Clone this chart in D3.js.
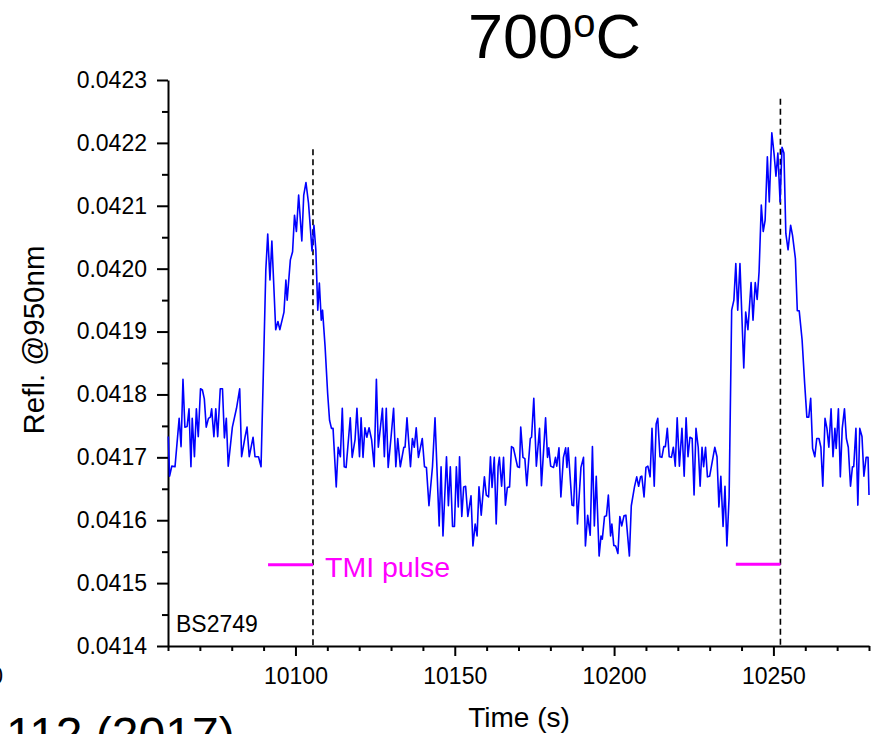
<!DOCTYPE html>
<html><head><meta charset="utf-8">
<script src="https://cdn.jsdelivr.net/npm/d3@7"></script>
<style>body{margin:0;background:#fff} svg{display:block} text{font-family:"Liberation Sans",Arial,sans-serif}</style>
</head><body><svg id="c" width="873" height="734"></svg>
<script>
const timeS = [
10060.1,10060.5,10061.2,10062.2,10063.5,10064.1,10064.7,10065.3,10066.0,10066.6,
10067.2,10067.6,10068.3,10068.9,10069.5,10070.2,10070.8,10071.4,10072.0,10072.7,
10073.3,10073.7,10074.4,10075.0,10075.6,10076.4,10077.1,10077.7,10078.3,10078.9,
10080.2,10081.5,10082.5,10083.1,10084.2,10084.8,10085.5,10086.7,10087.3,10088.4,
10089.2,10090.1,10090.7,10091.3,10092.0,10092.6,10093.8,10094.5,10095.1,10096.4,
10097.0,10097.4,10098.4,10099.1,10099.7,10100.3,10101.0,10102.0,10102.6,10103.3,
10104.1,10105.2,10105.8,10106.4,10107.0,10107.5,10108.1,10108.5,10109.3,10110.1,
10110.7,10111.3,10111.8,10112.8,10113.4,10114.1,10114.7,10115.3,10115.9,10117.2,
10117.8,10118.7,10119.3,10120.1,10120.6,10121.2,10121.8,10122.4,10123.1,10123.9,
10124.7,10125.4,10126.0,10127.3,10127.9,10128.5,10129.1,10130.0,10130.8,10131.5,
10132.1,10132.9,10134.0,10134.4,10135.0,10136.1,10136.7,10137.3,10137.9,10138.6,
10139.8,10140.5,10141.1,10141.9,10143.0,10143.8,10145.1,10145.7,10146.3,10147.4,
10148.0,10148.6,10149.3,10149.9,10150.5,10151.1,10151.5,10152.2,10152.8,10153.4,
10154.1,10155.1,10155.7,10156.4,10157.0,10157.6,10158.3,10159.3,10159.9,10160.6,
10161.2,10161.7,10162.4,10163.0,10163.6,10164.0,10164.7,10165.3,10165.9,10166.5,
10167.2,10167.8,10168.4,10169.7,10170.3,10170.7,10171.4,10172.0,10172.6,10173.7,
10174.1,10174.8,10175.6,10176.6,10177.2,10178.5,10179.1,10179.5,10180.1,10181.0,
10181.6,10182.0,10182.7,10183.3,10184.1,10184.8,10185.2,10185.6,10186.8,10187.3,
10187.9,10188.5,10189.6,10190.4,10191.0,10191.7,10192.5,10193.2,10193.8,10194.4,
10195.3,10195.9,10196.3,10197.0,10197.6,10198.2,10198.9,10199.3,10199.9,10200.5,
10201.2,10201.8,10202.4,10203.1,10203.7,10204.8,10205.4,10206.4,10207.1,10207.7,
10208.3,10208.7,10209.4,10210.0,10210.6,10211.3,10211.9,10212.6,10213.2,10213.7,
10214.4,10215.0,10215.6,10216.1,10216.7,10217.3,10218.0,10218.6,10219.2,10219.8,
10220.5,10221.3,10222.0,10222.6,10223.2,10223.8,10224.5,10225.1,10225.7,10226.4,
10227.0,10227.6,10228.1,10228.7,10229.3,10230.0,10231.6,10232.3,10232.9,10233.5,
10234.2,10234.8,10235.4,10236.1,10236.9,10237.6,10238.2,10238.8,10239.5,10240.7,
10241.3,10242.0,10243.0,10243.6,10244.3,10244.9,10245.5,10246.2,10246.8,10247.4,
10248.1,10248.7,10249.5,10250.2,10250.8,10251.4,10252.1,10252.7,10253.3,10253.9,
10254.6,10255.4,10256.0,10256.9,10257.5,10258.1,10259.0,10259.8,10260.5,10261.1,
10261.7,10262.3,10263.0,10263.6,10264.3,10264.9,10265.5,10266.2,10266.8,10267.4,
10268.1,10268.7,10269.3,10269.7,10270.4,10271.0,10271.6,10272.3,10272.9,10273.5,
10274.2,10274.8,10275.2,10275.9,10276.5,10277.1,10277.8,10278.4,10279.1,10279.7,
10280.0
];
const refl = [
0.041733,0.041670,0.041686,0.041685,0.041762,0.041717,0.041824,0.041748,0.041749,0.041777,
0.041685,0.041762,0.041701,0.041777,0.041733,0.041809,0.041807,0.041793,0.041748,0.041762,
0.041764,0.041777,0.041733,0.041777,0.041733,0.041809,0.041809,0.041731,0.041762,0.041686,
0.041748,0.041778,0.041809,0.041701,0.041733,0.041748,0.041701,0.041732,0.041701,0.041701,
0.041685,0.041871,0.041998,0.042055,0.041982,0.042044,0.041903,0.041916,0.041903,0.041931,
0.041982,0.041950,0.042014,0.042027,0.042085,0.042059,0.042117,0.042044,0.042117,0.042137,
0.042104,0.042028,0.042069,0.042030,0.041934,0.041977,0.041918,0.041934,0.041876,0.041802,
0.041759,0.041746,0.041746,0.041653,0.041716,0.041701,0.041778,0.041685,0.041684,0.041763,
0.041700,0.041728,0.041778,0.041701,0.041763,0.041700,0.041747,0.041732,0.041747,0.041728,
0.041685,0.041824,0.041716,0.041778,0.041701,0.041778,0.041684,0.041732,0.041778,0.041685,
0.041730,0.041685,0.041716,0.041716,0.041763,0.041685,0.041730,0.041716,0.041747,0.041700,
0.041730,0.041685,0.041684,0.041623,0.041685,0.041763,0.041591,0.041685,0.041575,0.041701,
0.041623,0.041685,0.041590,0.041590,0.041685,0.041621,0.041701,0.041606,0.041653,0.041654,
0.041606,0.041639,0.041559,0.041594,0.041575,0.041653,0.041608,0.041669,0.041640,0.041637,
0.041701,0.041652,0.041700,0.041594,0.041685,0.041700,0.041654,0.041700,0.041624,0.041652,
0.041653,0.041717,0.041715,0.041685,0.041684,0.041748,0.041700,0.041698,0.041655,0.041730,
0.041732,0.041794,0.041686,0.041746,0.041655,0.041763,0.041700,0.041715,0.041686,0.041684,
0.041700,0.041686,0.041715,0.041637,0.041700,0.041715,0.041684,0.041715,0.041624,0.041623,
0.041700,0.041594,0.041684,0.041700,0.041559,0.041608,0.041576,0.041717,0.041591,0.041670,
0.041543,0.041575,0.041570,0.041606,0.041607,0.041640,0.041575,0.041594,0.041560,0.041559,
0.041547,0.041606,0.041591,0.041607,0.041608,0.041543,0.041623,0.041653,0.041669,0.041654,
0.041669,0.041670,0.041637,0.041684,0.041686,0.041669,0.041746,0.041654,0.041753,0.041762,
0.041701,0.041700,0.041717,0.041717,0.041746,0.041701,0.041700,0.041716,0.041686,0.041763,
0.041686,0.041746,0.041670,0.041763,0.041701,0.041732,0.041730,0.041640,0.041746,0.041716,
0.041654,0.041716,0.041685,0.041716,0.041669,0.041670,0.041716,0.041701,0.041621,0.041670,
0.041590,0.041654,0.041559,0.041637,0.041934,0.041950,0.042008,0.041934,0.042008,0.041842,
0.041931,0.041903,0.041978,0.041918,0.041978,0.041951,0.041995,0.042101,0.042059,0.042077,
0.042178,0.042106,0.042216,0.042183,0.042147,0.042184,0.042106,0.042193,0.042184,0.042056,
0.042030,0.042069,0.042053,0.042016,0.041933,0.041933,0.041887,0.041818,0.041764,0.041764,
0.041794,0.041714,0.041701,0.041730,0.041730,0.041716,0.041654,0.041762,0.041746,0.041716,
0.041777,0.041701,0.041746,0.041714,0.041777,0.041669,0.041746,0.041777,0.041730,0.041716,
0.041654,0.041685,0.041685,0.041746,0.041624,0.041746,0.041733,0.041670,0.041700,0.041700,
0.041640
];
const xTicks = [10100, 10150, 10200, 10250];
const xMinor = [10060,10070,10080,10090,10110,10120,10130,10140,10160,10170,10180,10190,10210,10220,10230,10240,10260,10270,10280];
const yTicks = [0.0414,0.0415,0.0416,0.0417,0.0418,0.0419,0.0420,0.0421,0.0422,0.0423];
const yMinor = [0.04145,0.04155,0.04165,0.04175,0.04185,0.04195,0.04205,0.04215,0.04225];
const pulseStart = [10091.4, 10238.2];
const pulseEnd = [10105.5, 10252.2];
const pulseLevel = [0.041529, 0.041530];
const dashTop = [0.04219, 0.04227];

const svg = d3.select("#c");
const x = d3.scaleLinear().domain([10060, 10280]).range([168, 869]);
const y = d3.scaleLinear().domain([0.0414, 0.0423]).range([646, 80]);

// title
const title = svg.append("text").attr("x", 468).attr("y", 58).attr("font-size", 63).attr("fill", "#000");
title.append("tspan").text("700");
title.append("tspan").attr("font-size", 40).attr("dy", -21).text("o");
title.append("tspan").attr("dy", 21).text("C");

// axes
const gy = svg.append("g").attr("transform", "translate(168,0)");
gy.call(d3.axisLeft(y).tickValues(yTicks).tickSize(11).tickSizeOuter(0).tickPadding(10).tickFormat(d3.format(".4f")));
const gym = svg.append("g").attr("transform", "translate(168,0)");
gym.call(d3.axisLeft(y).tickValues(yMinor).tickSize(6).tickSizeOuter(0).tickFormat(""));
gym.select(".domain").remove();

const gx = svg.append("g").attr("transform", "translate(0,646)");
gx.call(d3.axisBottom(x).tickValues(xTicks).tickSize(10).tickSizeOuter(0).tickPadding(12).tickFormat(d3.format("d")));
const gxm = svg.append("g").attr("transform", "translate(0,646)");
gxm.call(d3.axisBottom(x).tickValues(xMinor).tickSize(5).tickSizeOuter(0).tickFormat(""));
gxm.select(".domain").remove();

svg.selectAll(".domain, .tick line").attr("stroke", "#000").attr("stroke-width", 2);
gy.selectAll("text").attr("font-size", 23).attr("font-family", "Liberation Sans, Arial, sans-serif").attr("fill", "#000");
gx.selectAll("text").attr("font-size", 23).attr("font-family", "Liberation Sans, Arial, sans-serif").attr("fill", "#000");

// dashed markers
svg.append("g").selectAll("line").data(pulseEnd).join("line")
  .attr("x1", d => x(d)).attr("x2", d => x(d))
  .attr("y1", (d, i) => y(dashTop[i])).attr("y2", y(0.0414))
  .attr("stroke", "#000").attr("stroke-width", 1.6).attr("stroke-dasharray", "6,4");

// pulse bars
svg.append("g").selectAll("line").data(pulseStart).join("line")
  .attr("x1", d => x(d)).attr("x2", (d, i) => x(pulseEnd[i]))
  .attr("y1", (d, i) => y(pulseLevel[i])).attr("y2", (d, i) => y(pulseLevel[i]))
  .attr("stroke", "#FF00FF").attr("stroke-width", 3);

// data line
const pts = d3.zip(timeS, refl);
svg.append("path").datum(pts)
  .attr("fill", "none").attr("stroke", "#0000FF").attr("stroke-width", 1.6).attr("stroke-linejoin", "round")
  .attr("d", d3.line().x(d => x(d[0])).y(d => y(d[1])));

// labels
svg.append("text").attr("x", 325).attr("y", 577).attr("font-size", 28.5).attr("fill", "#FF00FF").text("TMI pulse");
svg.append("text").attr("x", 176).attr("y", 632).attr("font-size", 23).attr("fill", "#000").text("BS2749");
svg.append("text").attr("transform", "translate(44,340) rotate(-90)").attr("text-anchor", "middle")
  .attr("font-size", 29.5).attr("fill", "#000").text("Refl. @950nm");
svg.append("text").attr("x", 519).attr("y", 727).attr("text-anchor", "middle").attr("font-size", 28).attr("fill", "#000").text("Time (s)");
svg.append("text").attr("x", 6).attr("y", 751).attr("font-size", 48).attr("fill", "#000").text("112 (2017)");
svg.append("text").attr("x", 3).attr("y", 684).attr("text-anchor", "end").attr("font-size", 23).attr("fill", "#000").text("0");
</script></body></html>
